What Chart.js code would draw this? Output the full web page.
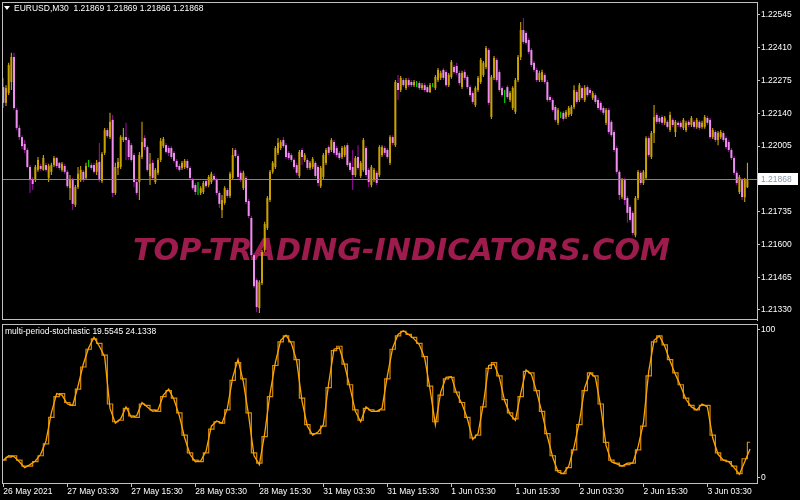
<!DOCTYPE html>
<html lang="en">
<head>
<meta charset="UTF-8">
<title>EURUSD M30 - multi-period-stochastic</title>
<script src="https://cdn.jsdelivr.net/npm/chart.js"></script>
<style>
  html, body { margin: 0; padding: 0; background: #000; }
  #wrap { position: relative; width: 800px; height: 500px; background: #000; overflow: hidden; }
  #priceChart { position: absolute; left: 0; top: 0; }
  #stochChart { position: absolute; left: 0; top: 322px; }
</style>
</head>
<body>
<div id="wrap">
  <canvas id="priceChart" width="800" height="322"></canvas>
  <canvas id="stochChart" width="800" height="178"></canvas>
</div>
<script>
// EURUSD M30 candles, prices in points (1 point = 0.00001)
const openPts = [
  122248,122183,122224,122269,122372,122154,122080,122042,122014,121989,
  121919,121865,121865,121907,121923,121907,121927,121874,121899,121927,
  121956,121936,121907,121923,121899,121832,121865,121763,121836,121865,
  121899,121874,121940,121927,121927,121899,121940,121861,121977,122071,
  122042,122113,121812,121915,121919,122030,122042,122030,122009,121968,
  121857,121857,121960,122038,122001,121882,121936,121857,121895,121948,
  122005,122009,121997,121997,121977,121944,121923,121915,121919,121944,
  121915,121865,121845,121824,121812,121816,121861,121845,121857,121882,
  121865,121812,121742,121771,121824,121800,121874,121989,121964,121895,
  121832,121874,121779,121709,121556,121453,121338,121441,121577,121668,
  121783,121899,121919,121977,121997,122030,122009,121977,121968,121948,
  121927,121882,121989,121948,121948,121915,121919,121936,121919,121840,
  121878,121936,122001,121989,122022,121997,121977,121960,121968,122009,
  121936,121919,121886,121960,121882,121907,121997,121907,121845,121865,
  121895,121886,121968,121997,121989,121936,122042,122009,122265,122236,
  122277,122244,122277,122269,122256,122265,122265,122244,122256,122248,
  122228,122256,122244,122277,122286,122319,122310,122256,122290,122331,
  122335,122306,122248,122310,122290,122248,122224,122174,122236,122269,
  122298,122331,122401,122125,122286,122360,122310,122244,122215,122248,
  122195,122162,122146,122277,122372,122483,122471,122442,122401,122348,
  122319,122277,122277,122298,122269,122207,122195,122166,122101,122133,
  122142,122125,122133,122137,122166,122228,122195,122244,122195,122248,
  122236,122203,122215,122195,122183,122162,122101,122154,122105,122063,
  121997,121899,121795,121865,121791,121754,121730,121638,121791,121895,
  121853,121874,122038,121960,122059,122133,122121,122125,122101,122105,
  122071,122113,122063,122101,122101,122080,122071,122105,122092,122105,
  122084,122105,122084,122084,122121,122113,122042,122063,122030,122042,
  122059,122038,122022,121989,121956,121895,121816,121865,121795,121836,
  121869
];
const highPts = [
  122286,122256,122348,122389,122389,122162,122092,122050,122030,121997,
  121927,121878,121927,121960,121932,121968,121936,121932,121936,121964,
  121960,121940,121940,121932,121907,121886,121874,121845,121919,121923,
  121907,121936,121948,121936,121936,121948,122018,121981,122080,122080,
  122142,122133,121936,121956,122050,122080,122101,122038,122018,121977,
  121865,121981,122105,122050,122009,121977,121948,121915,121956,122038,
  122042,122018,122005,122005,121985,121952,121932,121944,121952,121952,
  121923,121874,121853,121857,121840,121861,121869,121886,121899,121891,
  121874,121820,121804,121840,121832,121899,121997,121997,121973,121903,
  121903,121882,121787,121717,121565,121461,121453,121577,121693,121800,
  121907,121944,122005,122038,122030,122042,122018,121985,121977,121956,
  121936,121989,121997,121977,121956,121944,121960,121944,121927,121923,
  121977,121997,122009,122038,122030,122005,121985,122005,122009,122018,
  121944,121989,121964,122009,121944,122038,122005,121915,121927,121915,
  121903,122009,122009,122005,121997,122050,122050,122277,122298,122294,
  122286,122286,122286,122277,122277,122273,122273,122265,122265,122256,
  122265,122265,122298,122327,122315,122327,122319,122306,122360,122339,
  122348,122315,122315,122319,122298,122256,122232,122252,122294,122368,
  122356,122417,122409,122298,122376,122368,122319,122252,122236,122256,
  122232,122252,122286,122380,122516,122533,122479,122450,122409,122356,
  122327,122315,122319,122306,122277,122215,122203,122174,122162,122146,
  122150,122154,122170,122174,122256,122236,122265,122252,122256,122256,
  122244,122232,122224,122203,122191,122170,122162,122162,122113,122071,
  122005,121907,121874,121874,121800,121763,121738,121800,121907,121903,
  121907,122046,122046,122067,122174,122142,122129,122133,122129,122113,
  122146,122121,122113,122109,122109,122121,122109,122113,122129,122113,
  122121,122113,122109,122133,122129,122121,122080,122071,122067,122071,
  122067,122046,122030,121997,121964,121903,121886,121874,121874,121936,
  121869
];
const lowPts = [
  122162,122170,122215,122236,122154,122071,122030,121993,121977,121915,
  121812,121824,121857,121899,121903,121903,121899,121857,121886,121919,
  121915,121907,121899,121891,121832,121783,121742,121754,121828,121857,
  121857,121865,121919,121907,121891,121886,121857,121853,121968,122038,
  122034,121795,121804,121886,121911,122022,121948,121948,121940,121836,
  121804,121783,121952,121989,121899,121845,121865,121849,121886,121940,
  121997,121973,121964,121952,121936,121911,121899,121907,121911,121907,
  121865,121824,121804,121804,121804,121808,121832,121836,121849,121861,
  121804,121750,121709,121763,121791,121791,121865,121956,121869,121857,
  121824,121767,121709,121544,121420,121322,121318,121433,121569,121659,
  121775,121891,121911,121968,121989,121997,121952,121948,121940,121911,
  121886,121874,121927,121940,121907,121907,121911,121874,121840,121832,
  121869,121927,121968,121981,121968,121960,121948,121952,121960,121919,
  121899,121824,121878,121907,121874,121899,121878,121836,121836,121857,
  121845,121878,121960,121968,121952,121927,122009,122001,122195,122228,
  122248,122236,122248,122248,122248,122248,122236,122236,122228,122224,
  122224,122248,122236,122269,122277,122277,122248,122248,122282,122302,
  122298,122256,122240,122277,122240,122207,122178,122166,122228,122261,
  122290,122323,122174,122117,122277,122269,122228,122207,122183,122199,
  122187,122154,122137,122269,122360,122426,122422,122384,122331,122310,
  122269,122269,122269,122261,122187,122187,122146,122105,122092,122121,
  122109,122117,122125,122129,122158,122178,122187,122195,122187,122207,
  122215,122195,122178,122154,122146,122133,122092,122055,122042,121981,
  121891,121783,121787,121763,121689,121693,121638,121630,121783,121845,
  121845,121865,121960,121952,122018,122096,122096,122092,122092,122076,
  122063,122084,122042,122084,122076,122071,122063,122084,122084,122076,
  122076,122071,122076,122076,122092,122034,122034,122022,122009,122034,
  122022,121993,121981,121948,121886,121845,121808,121783,121775,121832,
  121866
];
const closePts = [
  122183,122244,122339,122372,122162,122080,122042,122005,121989,121919,
  121865,121849,121919,121948,121911,121956,121907,121923,121927,121956,
  121923,121915,121932,121899,121840,121865,121767,121836,121891,121907,
  121865,121923,121940,121915,121899,121936,121865,121973,122071,122046,
  122105,121812,121919,121940,122042,122042,122030,121960,121948,121857,
  121812,121968,122022,122001,121907,121932,121874,121907,121948,122026,
  122034,121981,121977,121960,121944,121919,121907,121936,121944,121915,
  121874,121832,121816,121824,121832,121853,121840,121878,121891,121869,
  121812,121767,121783,121832,121800,121891,121968,121964,121878,121865,
  121895,121775,121717,121556,121428,121342,121445,121569,121684,121791,
  121899,121936,121997,122018,122022,122005,121960,121956,121948,121919,
  121895,121981,121960,121968,121915,121936,121952,121882,121853,121915,
  121968,121989,121977,122030,121977,121968,121956,121997,122001,121927,
  121907,121886,121956,121915,121936,122030,121886,121857,121919,121907,
  121853,122001,122001,121977,121960,122042,122018,122269,122236,122286,
  122256,122277,122256,122256,122269,122265,122244,122256,122236,122228,
  122256,122256,122290,122319,122306,122286,122256,122298,122352,122310,
  122306,122265,122306,122286,122248,122215,122187,122244,122286,122360,
  122348,122409,122183,122290,122368,122277,122236,122215,122215,122207,
  122224,122244,122277,122372,122483,122434,122430,122393,122339,122319,
  122277,122306,122310,122269,122195,122195,122154,122113,122154,122133,
  122117,122146,122162,122166,122236,122187,122256,122203,122244,122215,
  122224,122224,122187,122162,122154,122142,122154,122063,122050,121989,
  121899,121804,121865,121783,121730,121701,121647,121791,121899,121853,
  121899,122038,121968,122059,122125,122105,122105,122101,122121,122084,
  122133,122092,122105,122092,122084,122113,122101,122092,122121,122084,
  122113,122080,122101,122125,122101,122042,122071,122030,122059,122063,
  122030,122001,121989,121956,121895,121853,121878,121795,121865,121865,
  121868
];

const bidPrice = 1.21868;
const priceTicks = [1.21330, 1.21465, 1.21600, 1.21735, 1.22005, 1.22140, 1.22275, 1.22410, 1.22545];

// time axis: one label every 24 bars
const timeTickBars = [0, 24, 48, 72, 96, 120, 144, 168, 192, 216, 240, 264];
const timeTickLabels = ['26 May 2021', '27 May 03:30', '27 May 15:30', '28 May 03:30', '28 May 15:30',
  '31 May 03:30', '31 May 15:30', '1 Jun 03:30', '1 Jun 15:30', '2 Jun 03:30', '2 Jun 15:30', '3 Jun 03:30'];

// multi-period stochastic, one value every 2 bars
const stochLine1 = [
  12, 15, 14.5, 11, 7, 9, 11.5, 16, 25, 44,
  57, 56, 50, 49, 62, 77, 88, 95, 89, 82,
  47, 37, 40, 48, 41, 42, 51, 48, 45, 46,
  56, 60, 53, 42, 27, 16, 11, 11.5, 18, 35,
  38.5, 37, 47, 68, 80, 65, 42, 15, 9, 30,
  57, 78, 93, 96.5, 91, 79, 52, 35, 29, 31,
  36, 64, 87, 88, 76, 61, 45, 38, 48, 45,
  45, 47, 69, 88, 97, 99.5, 97, 94, 90, 81,
  60, 36, 58, 68, 68.5, 57, 50, 40, 26, 30,
  50, 76, 77, 68, 52, 43, 39, 57, 73, 70,
  58, 44, 28, 14, 4, 3, 8, 21, 38, 61,
  71, 68, 48, 22, 11, 9.5, 8, 10, 10, 21,
  37, 72, 93, 96, 89, 79, 70, 62, 53, 48,
  46, 50, 48, 27, 16, 12, 11, 7, 2.5, 11,
  19.5545
];
const stochLine2 = [
  12, 14, 15, 12, 8, 8, 11, 15, 23, 41,
  55, 57, 51, 49, 60, 75, 87, 94, 91, 83,
  50, 38, 39, 47, 42, 41, 50, 49, 46, 45,
  55, 59, 54, 44, 29, 17, 12, 11, 17, 33,
  38, 37, 46, 66, 78, 67, 44, 17, 10, 28,
  55, 76, 92, 96, 92, 80, 54, 36, 30, 30,
  35, 61, 86, 89, 77, 63, 46, 39, 47, 46,
  45, 46, 67, 87, 96, 99, 97, 95, 91, 82,
  62, 38, 56, 67, 68, 58, 51, 41, 27, 29,
  48, 74, 78, 69, 53, 44, 40, 55, 72, 71,
  59, 45, 30, 15, 5, 3, 7, 19, 36, 59,
  71, 69, 50, 24, 12, 10, 8, 9, 10, 19,
  35, 69, 92, 96, 90, 80, 71, 63, 54, 49,
  46, 49, 49, 29, 17, 12, 11, 8, 3, 13,
  24.1338
];

const toPrice = p => p / 100000;
const frameColor = '#c0c0c0';

Chart.defaults.font.family = '"Liberation Sans", Arial, sans-serif';
Chart.defaults.font.size = 8.5;
Chart.defaults.color = '#ffffff';

// candle colours like the MT4 scheme
const bodyColors = [], wickColors = [];
for (let i = 0; i < closePts.length; i++) {
  if (closePts[i] > openPts[i]) { bodyColors.push('#c9a200'); wickColors.push('#e0b400'); }
  else if (closePts[i] < openPts[i]) { bodyColors.push('#f08ef0'); wickColors.push('#a010a8'); }
  else { bodyColors.push('#00ff00'); wickColors.push('#00ff00'); }
}

const bodies = closePts.map((c, i) => ({ x: i, y: [toPrice(openPts[i]), toPrice(c)] }));
const wicks = closePts.map((c, i) => ({ x: i, y: [toPrice(lowPts[i]), toPrice(highPts[i])] }));

const fixedAxis = (w) => (scale) => {
  scale.width = w;
  scale.paddingTop = 0; scale.paddingBottom = 0;
};

const priceDecor = {
  id: 'priceDecor',
  beforeDatasetsDraw(chart) {
    const ctx = chart.ctx;
    const text = 'TOP-TRADING-INDICATORS.COM';
    ctx.save();
    ctx.font = 'italic bold 30px "DejaVu Sans"';
    const w = ctx.measureText(text).width;
    ctx.translate(133, 260);
    ctx.scale(537 / w, 1);
    ctx.fillStyle = '#9e1b4e';
    ctx.textBaseline = 'alphabetic';
    ctx.fillText(text, 0, 0);
    ctx.restore();
  },
  afterDatasetsDraw(chart) {
    const { ctx, chartArea } = chart;
    const y = Math.round(chart.scales.y.getPixelForValue(bidPrice)) + 0.5;
    ctx.save();
    ctx.strokeStyle = '#778899';
    ctx.lineWidth = 1;
    ctx.beginPath();
    ctx.moveTo(chartArea.left, y);
    ctx.lineTo(chartArea.right, y);
    ctx.stroke();
    ctx.restore();
  },
  afterDraw(chart) {
    const { ctx, chartArea } = chart;
    ctx.save();
    ctx.strokeStyle = frameColor;
    ctx.lineWidth = 1;
    ctx.strokeRect(chartArea.left + 0.5, chartArea.top + 0.5,
      chartArea.right - chartArea.left, chartArea.bottom - chartArea.top - 1);
    // bid label
    const y = Math.round(chart.scales.y.getPixelForValue(bidPrice));
    ctx.fillStyle = '#ffffff';
    ctx.fillRect(758, y - 6, 40, 12);
    ctx.fillStyle = '#8a98a8';
    ctx.font = '8.5px "Liberation Sans"';
    ctx.textBaseline = 'middle';
    ctx.fillText(bidPrice.toFixed(5), 761, y + 0.5);
    // symbol header
    const last = closePts.length - 1;
    ctx.fillStyle = '#ffffff';
    ctx.beginPath();
    ctx.moveTo(4, 6); ctx.lineTo(10, 6); ctx.lineTo(7, 10); ctx.closePath();
    ctx.fill();
    ctx.fillText('EURUSD,M30  ' + [openPts[last], highPts[last], lowPts[last], closePts[last]]
      .map(v => toPrice(v).toFixed(5)).join(' '), 14, 8.5);
    ctx.restore();
  }
};

new Chart(document.getElementById('priceChart'), {
  type: 'bar',
  data: {
    datasets: [
      { label: 'body', data: bodies, backgroundColor: bodyColors, barThickness: 2,
        grouped: false, borderWidth: 0, inflateAmount: 0 },
      { label: 'wick', data: wicks, backgroundColor: wickColors, barThickness: 1,
        grouped: false, borderWidth: 0, inflateAmount: 0 }
    ]
  },
  options: {
    responsive: false,
    animation: false,
    layout: { padding: { left: 2, top: 2, bottom: 2, right: 0 } },
    plugins: { legend: { display: false }, tooltip: { enabled: false } },
    scales: {
      x: { type: 'linear', min: -0.5, max: 282.6, offset: false, display: false },
      y: {
        position: 'right',
        min: 1.212888, max: 1.225985,
        afterBuildTicks: s => { s.ticks = priceTicks.map(v => ({ value: v })); },
        afterFit: fixedAxis(43),
        ticks: { color: '#ffffff', padding: 1, callback: v => Number(v).toFixed(5) },
        grid: { drawOnChartArea: false, tickLength: 3, color: frameColor },
        border: { color: frameColor }
      }
    }
  },
  plugins: [priceDecor]
});

const stochDecor = {
  id: 'stochDecor',
  afterDraw(chart) {
    const { ctx, chartArea } = chart;
    ctx.save();
    ctx.strokeStyle = frameColor;
    ctx.lineWidth = 1;
    ctx.strokeRect(chartArea.left + 0.5, chartArea.top + 0.5,
      chartArea.right - chartArea.left, chartArea.bottom - chartArea.top);
    ctx.fillStyle = '#ffffff';
    ctx.font = '8.5px "Liberation Sans"';
    ctx.textBaseline = 'middle';
    ctx.fillText('multi-period-stochastic ' + stochLine1[stochLine1.length - 1].toFixed(4) + ' ' +
      stochLine2[stochLine2.length - 1].toFixed(4), 5, 10);
    ctx.restore();
  }
};

new Chart(document.getElementById('stochChart'), {
  type: 'line',
  data: {
    datasets: [
      { label: 'stoch 1', data: stochLine1.map((v, k) => ({ x: k * 2, y: v })),
        borderColor: '#ffa500', borderWidth: 1.3, pointRadius: 0, tension: 0 },
      { label: 'stoch 2', data: stochLine2.map((v, k) => ({ x: k * 2, y: v })),
        borderColor: '#d48a0c', borderWidth: 1.2, pointRadius: 0, stepped: 'middle' }
    ]
  },
  options: {
    responsive: false,
    animation: false,
    layout: { padding: { left: 2, top: 2, bottom: 0, right: 0 } },
    plugins: { legend: { display: false }, tooltip: { enabled: false } },
    scales: {
      x: {
        type: 'linear', min: -0.5, max: 282.6,
        afterBuildTicks: s => { s.ticks = timeTickBars.map(v => ({ value: v })); },
        afterFit: s => { s.height = 17; s.paddingLeft = 0; s.paddingRight = 0; },
        ticks: {
          color: '#ffffff', align: 'start', padding: 0, maxRotation: 0, autoSkip: false,
          callback: v => timeTickLabels[timeTickBars.indexOf(v)]
        },
        grid: { drawOnChartArea: false, tickLength: 4, color: frameColor },
        border: { color: frameColor }
      },
      y: {
        position: 'right',
        min: -3.4, max: 104.05,
        afterBuildTicks: s => { s.ticks = [0, 100].map(v => ({ value: v })); },
        afterFit: fixedAxis(43),
        ticks: { color: '#ffffff', padding: 1 },
        grid: { drawOnChartArea: false, tickLength: 3, color: frameColor },
        border: { color: frameColor }
      }
    }
  },
  plugins: [stochDecor]
});
</script>
</body>
</html>
